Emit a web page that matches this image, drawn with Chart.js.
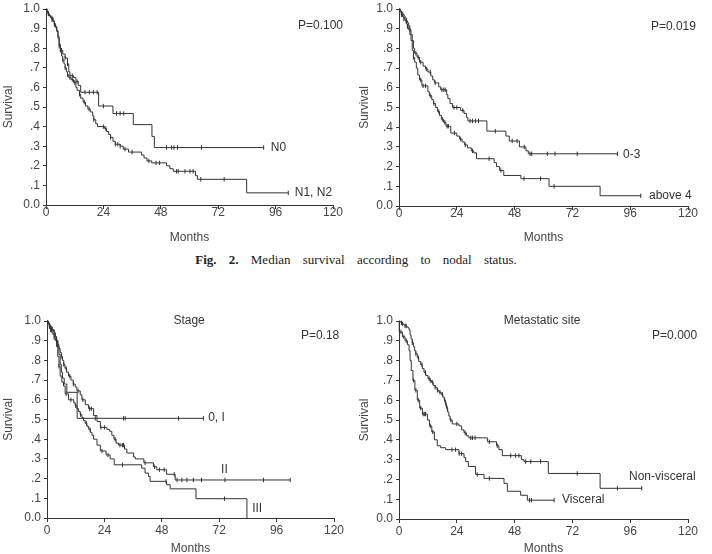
<!DOCTYPE html>
<html>
<head>
<meta charset="utf-8">
<script src="https://cdn.jsdelivr.net/npm/chart.js@4.4.0/dist/chart.umd.min.js"></script>
<style>
  body { margin: 0; background: #fff; width: 712px; height: 554px; overflow: hidden; position: relative; }
  .panel { position: absolute; }
  #caption {
    position: absolute; top: 252px; left: 0; width: 712px; text-align: center;
    font: 13px "Liberation Serif", "DejaVu Serif", serif; line-height: 15px;
    word-spacing: 9px; color: #222;
  }
</style>
</head>
<body>
<div class="panel" style="left:0;top:0"><canvas id="c1" width="356" height="250"></canvas></div>
<div class="panel" style="left:356px;top:0"><canvas id="c2" width="356" height="250"></canvas></div>
<div id="caption"><b>Fig. 2.</b> Median survival according to nodal status.</div>
<div class="panel" style="left:0;top:300px"><canvas id="c3" width="356" height="260"></canvas></div>
<div class="panel" style="left:356px;top:300px"><canvas id="c4" width="356" height="260"></canvas></div>
<script>
// Kaplan-Meier steps: [month, survival after the drop]; censor marks: months
const n0Steps = [[0,1],[0.5,.985],[1,.975],[1.5,.965],[2,.955],[3,.94],[3.5,.925],[4,.91],[4.5,.89],[5,.86],[5.5,.82],[6,.79],[7,.77],[8,.75],[9,.72],[9.5,.68],[10,.66],[11.5,.65],[12.5,.63],[13.5,.61],[14.5,.575],[22,.505],[28,.467],[36.5,.41],[44.3,.35],[45.3,.293]];
const n0Censor = [1, 2.5, 6.5, 8, 9, 11, 13, 16.3, 18.1, 19.8, 21.4, 24, 29.5, 31, 32.5, 50.4, 52.5, 53.5, 55, 65, 91];

const n12Steps = [[0,1],[0.3,.99],[0.8,.975],[1.3,.965],[2,.955],[2.5,.945],[3,.935],[3.5,.92],[4,.905],[4.5,.885],[5,.85],[5.5,.81],[6,.78],[6.5,.76],[7,.74],[7.5,.72],[8,.70],[8.5,.68],[9,.665],[9.5,.65],[10.5,.64],[11.5,.625],[12.5,.60],[13,.585],[14,.565],[14.5,.545],[15.5,.525],[16.5,.505],[17.5,.49],[18.5,.475],[19.5,.455],[20,.435],[20.8,.415],[21.5,.40],[24.5,.39],[25.3,.375],[26.2,.36],[27,.345],[28,.325],[29,.31],[31,.30],[32.3,.285],[34.5,.27],[40,.255],[41,.24],[42.2,.225],[44.2,.215],[50.4,.20],[51.8,.185],[53.2,.172],[62.5,.15],[63.3,.131],[83.9,.062]];
const n12Censor = [1, 2.5, 3.5, 5.5, 7, 8, 9, 10, 11, 12, 14, 16, 18, 20, 24, 25, 27, 29, 30, 31, 33, 36, 43, 46, 47.5, 54.6, 55.3, 58.1, 60.2, 61.5, 64.7, 74.5, 101.3];

const low03Steps = [[0,1],[0.5,.99],[1,.975],[2,.965],[2.5,.955],[3,.94],[3.5,.93],[4,.915],[4.5,.895],[5,.87],[5.5,.84],[6,.80],[6.5,.775],[7.5,.755],[8.5,.73],[10,.71],[11,.695],[12,.68],[13.2,.66],[14,.64],[14.8,.625],[16.5,.605],[17.3,.59],[19.8,.565],[20.3,.545],[21.2,.52],[22.2,.50],[25.6,.485],[27,.47],[28,.45],[28.6,.432],[36.5,.38],[44.4,.355],[45.8,.33],[50,.30],[52.7,.28],[53.7,.265]];
const low03Censor = [1.5, 3, 4.5, 7, 8, 9, 11.5, 13, 15, 17.8, 18.6, 19.2, 22.8, 24, 26.5, 29.5, 30.5, 31.8, 33, 40, 47, 49, 52, 54.4, 55.1, 61.6, 64.8, 74, 90.7];

const above4Steps = [[0,1],[0.5,.985],[1,.97],[1.5,.96],[2,.95],[2.5,.94],[3,.925],[3.5,.91],[4,.895],[4.5,.87],[5,.84],[5.5,.79],[6,.755],[6.5,.73],[7.2,.70],[7.8,.665],[8.5,.64],[9.5,.61],[12,.58],[12.6,.56],[13.6,.54],[14.3,.52],[15.2,.50],[16,.48],[16.8,.46],[17.6,.44],[18.5,.425],[19.5,.405],[21.5,.37],[24,.355],[25.2,.34],[26.2,.325],[27.3,.31],[28.4,.295],[30,.28],[31,.27],[32.2,.24],[39.5,.22],[40.5,.20],[41.8,.18],[43.5,.155],[50.6,.139],[62.3,.10],[83.5,.052]];
const above4Censor = [1, 2, 3.5, 6, 9, 10, 11, 13, 14.5, 16.5, 18, 19, 20, 20.5, 23, 25.5, 27.5, 30.5, 37.4, 42.3, 51.9, 58.8, 64.4, 100.4];

const stage0Steps = [[0,1],[0.5,.985],[1,.97],[2,.955],[3,.935],[3.5,.92],[4,.90],[4.5,.87],[5,.83],[5.5,.78],[6,.74],[6.5,.71],[7.2,.68],[8.3,.638],[12.6,.506]];
const stage0Censor = [1, 2, 4, 20.2, 32, 32.7, 55, 65.4];

const stage2Steps = [[0,1],[0.5,.99],[1,.98],[1.5,.97],[2,.96],[2.5,.95],[3,.94],[3.5,.92],[4,.90],[4.5,.88],[5,.86],[5.5,.84],[6,.82],[6.5,.80],[7,.78],[7.5,.76],[8.2,.74],[9,.72],[10,.70],[11,.68],[11.8,.665],[12.5,.645],[13.9,.625],[14.6,.60],[16,.575],[17.4,.555],[19.5,.52],[20.9,.49],[22.3,.46],[25,.45],[26.2,.44],[27.1,.42],[28,.40],[28.9,.38],[29.9,.37],[32.4,.35],[33.4,.33],[36.2,.31],[36.9,.30],[40.5,.28],[44.5,.26],[45.9,.245],[50,.222],[53.6,.193]];
const stage2Censor = [1, 2, 3, 4.5, 6, 7, 8, 9.5, 11, 13, 15, 17.8, 18.5, 22.5, 24, 28.5, 30.5, 31.5, 32, 41, 45, 47, 49, 53.2, 54.4, 56.4, 58.5, 61.2, 64.6, 74.4, 90.5, 101.7];

const stage3Steps = [[0,1],[0.5,.985],[1,.97],[1.5,.955],[2,.94],[2.5,.93],[3,.915],[3.5,.90],[4,.87],[4.5,.82],[5,.77],[5.5,.72],[6.2,.69],[6.9,.67],[7.6,.63],[9,.60],[11.2,.585],[11.8,.57],[12.5,.555],[13.2,.54],[13.9,.525],[14.6,.51],[15.3,.495],[16,.48],[16.7,.465],[17.4,.45],[18.1,.435],[18.8,.42],[19.5,.40],[20.9,.37],[22.3,.34],[24.7,.32],[26.4,.30],[28.1,.27],[39.6,.253],[41,.228],[42.4,.211],[43.1,.186],[50,.169],[51.5,.148],[62.3,.098],[83.6,0]];
const stage3Censor = [1.5, 3, 5, 8, 10, 12, 14, 16.5, 18, 23, 25.5, 31.6, 49.8, 74.2];

const nonVisSteps = [[0,1],[0.5,.995],[1,.99],[1.5,.985],[2,.98],[2.5,.975],[3.2,.97],[3.8,.965],[4.2,.955],[4.6,.93],[5,.91],[5.5,.89],[6,.87],[6.5,.85],[7,.835],[7.6,.815],[8.2,.795],[9,.78],[9.7,.76],[10.4,.74],[11.1,.725],[12,.71],[12.8,.70],[13.5,.69],[14.2,.675],[15,.665],[15.8,.65],[16.6,.64],[17.5,.63],[18.2,.615],[18.8,.60],[19.3,.58],[19.7,.56],[20.2,.54],[20.7,.52],[21.2,.50],[22.1,.48],[24.9,.47],[26,.45],[27,.435],[28,.42],[29,.41],[36.7,.39],[40.5,.37],[41.5,.35],[42.9,.32],[50.8,.30],[51.9,.29],[62,.23],[83.5,.155]];
const nonVisCensor = [1, 1.5, 2.5, 3, 5.5, 7, 8, 9.5, 11, 12.5, 13, 14, 15, 16, 17, 18, 19, 19.5, 20, 21.5, 24, 27.5, 29.8, 30.5, 31.6, 37.5, 40.8, 46.4, 48.4, 49.8, 52.6, 54.7, 58.8, 74, 90.7, 100.8];

const visSteps = [[0,1],[0.1,.945],[1.4,.92],[2.5,.90],[3.5,.88],[4.2,.85],[4.6,.80],[5.1,.75],[5.8,.70],[6.6,.65],[7.6,.60],[8.6,.56],[9.7,.53],[11.8,.50],[12.7,.47],[13.6,.44],[14.7,.40],[15.9,.37],[17.3,.36],[19.4,.35],[24.9,.33],[27,.31],[27.7,.29],[28.8,.265],[31.8,.225],[35.3,.205],[43.6,.18],[45,.14],[50.5,.12],[53.3,.095]];
const visCensor = [0.8, 2, 3, 6, 7, 8, 9, 10, 10.5, 11, 13, 14, 22, 23.5, 25, 26, 32.5, 37.5, 54.2, 55, 64.4];

const pValues = ['P=0.100', 'P=0.019', 'P=0.18', 'P=0.000'];
const panelTitles = ['', '', 'Stage', 'Metastatic site'];

const INK = '#333';
const TXT = '#444';
const FONT = '"Liberation Sans", Arial, sans-serif';

function survAt(steps, t) {
  let s = steps[0][1];
  for (const [x, y] of steps) { if (x <= t) s = y; }
  return s;
}

function curveSets(steps, censor) {
  const last = steps[steps.length - 1];
  const end = Math.max(last[0], censor[censor.length - 1]);
  const line = steps.map(([x, y]) => ({ x, y }));
  if (end > last[0]) line.push({ x: end, y: last[1] });
  return [
    { data: line, stepped: 'before', borderColor: INK, borderWidth: 1, pointRadius: 0, fill: false, clip: false },
    { data: censor.map(t => ({ x: t, y: survAt(steps, t) })), showLine: false, pointStyle: 'line', rotation: 90,
      pointRadius: 2.2, pointBorderColor: INK, pointBorderWidth: 1, clip: false }
  ];
}

const annot = {
  id: 'annot',
  afterDatasetsDraw(chart, args, opts) {
    const { ctx, scales: { x, y } } = chart;
    ctx.save();
    ctx.font = '12px ' + FONT;
    ctx.fillStyle = INK;
    ctx.textBaseline = 'middle';
    for (const l of opts.items) {
      ctx.textAlign = l.align;
      ctx.fillText(l.text, x.getPixelForValue(l.x), y.getPixelForValue(l.y));
    }
    ctx.restore();
  }
};

function yLabel(v) {
  const n = Math.round(v * 10);
  if (n === 10) return '1.0';
  if (n === 0) return '0.0';
  return '.' + n;
}

function makeChart(id, p) {
  new Chart(document.getElementById(id), {
    type: 'line',
    data: { datasets: p.curves.flatMap(c => curveSets(c[0], c[1])) },
    plugins: [annot],
    options: {
      responsive: false,
      animation: false,
      layout: { padding: { left: 0, right: p.padRight, top: p.padTop, bottom: 0 } },
      plugins: {
        legend: { display: false },
        tooltip: { enabled: false },
        annot: { items: p.items }
      },
      scales: {
        x: {
          type: 'linear', min: 0, max: 120,
          ticks: { stepSize: 24, color: TXT, padding: p.xPad, maxRotation: 0, autoSkip: false,
                   font: { family: FONT, size: 12, lineHeight: 1 } },
          grid: { drawOnChartArea: false, tickLength: 4, color: INK },
          border: { color: INK, width: 1 },
          title: { display: true, text: 'Months', color: TXT, font: { family: FONT, size: 12 },
                   padding: { top: 0, bottom: p.titlePad } },
          afterFit: s => { s.height = p.xHeight; }
        },
        y: {
          min: 0, max: 1,
          ticks: { stepSize: 0.1, color: TXT, padding: 3, callback: yLabel,
                   font: { family: FONT, size: 12, lineHeight: 1 } },
          grid: { drawOnChartArea: false, tickLength: 3, color: INK },
          border: { color: INK, width: 1 },
          title: { display: true, text: 'Survival', color: TXT, font: { family: FONT, size: 12 },
                   padding: { top: 1.5, bottom: 0 } },
          afterFit: s => { s.width = p.yWidth; }
        }
      }
    }
  });
}

makeChart('c1', {
  curves: [[n0Steps, n0Censor], [n12Steps, n12Censor]],
  yWidth: 46, padRight: 23, padTop: 7, xHeight: 45, xPad: -2, titlePad: 5,
  items: [
    { text: pValues[0], x: 124.2, y: 0.914, align: 'right' },
    { text: 'N0', x: 94, y: 0.293, align: 'left' },
    { text: 'N1, N2', x: 104, y: 0.063, align: 'left' }
  ]
});

makeChart('c2', {
  curves: [[low03Steps, low03Censor], [above4Steps, above4Censor]],
  yWidth: 43, padRight: 24, padTop: 7, xHeight: 44, xPad: -2, titlePad: 5,
  items: [
    { text: pValues[1], x: 123.3, y: 0.91, align: 'right' },
    { text: '0-3', x: 93, y: 0.262, align: 'left' },
    { text: 'above 4', x: 103.8, y: 0.053, align: 'left' }
  ]
});

makeChart('c3', {
  curves: [[stage0Steps, stage0Censor], [stage2Steps, stage2Censor], [stage3Steps, stage3Censor]],
  yWidth: 47, padRight: 22, padTop: 21, xHeight: 42, xPad: 3, titlePad: 4,
  items: [
    { text: panelTitles[2], x: 59.4, y: 1.0, align: 'center' },
    { text: pValues[2], x: 122.2, y: 0.924, align: 'right' },
    { text: '0, I', x: 67.4, y: 0.507, align: 'left' },
    { text: 'II', x: 72.8, y: 0.244, align: 'left' },
    { text: 'III', x: 85.8, y: 0.046, align: 'left' }
  ]
});

makeChart('c4', {
  curves: [[nonVisSteps, nonVisCensor], [visSteps, visCensor]],
  yWidth: 43, padRight: 24, padTop: 21, xHeight: 41, xPad: 3, titlePad: 4,
  items: [
    { text: panelTitles[3], x: 59.4, y: 1.0, align: 'center' },
    { text: pValues[3], x: 123.8, y: 0.924, align: 'right' },
    { text: 'Non-visceral', x: 95.5, y: 0.212, align: 'left' },
    { text: 'Visceral', x: 67.7, y: 0.096, align: 'left' }
  ]
});
</script>
</body>
</html>
